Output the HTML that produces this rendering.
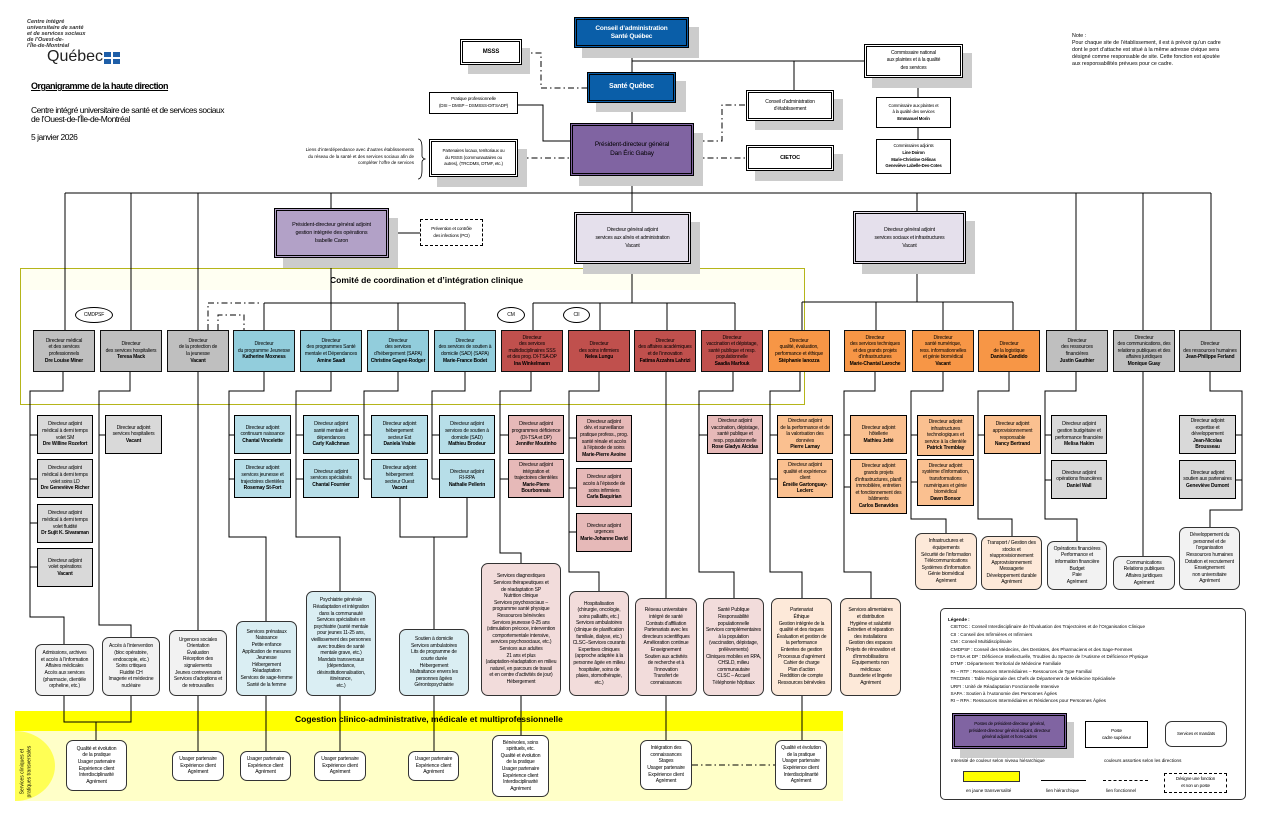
<!DOCTYPE html>
<html><head><meta charset="utf-8"><style>
*{margin:0;padding:0}
body{width:1263px;height:819px;position:relative;background:#fff;font-family:"Liberation Sans",sans-serif;overflow:hidden}
.b{position:absolute;box-sizing:border-box;border:1px solid #000;display:flex;align-items:center;justify-content:center;text-align:center;font-size:5px;line-height:6.6px;overflow:hidden;letter-spacing:-0.15px;color:#000}
.b>span{display:block;width:100%}
.d{border:1.5px solid #111}
.r{border-radius:7px;border:1.3px solid #333}
.dbl{border:3px double #000}
.sh{position:absolute;background:#ccc}
.t{position:absolute;font-size:5px;line-height:6.6px;white-space:nowrap}
.gD{background:#bfbfbf}.gA{background:#d9d9d9}.gS{background:#f2f2f2}
.bD{background:#92cddc}.bA{background:#b7dee8}.bS{background:#daeef3}
.rD{background:#c0504d}.rA{background:#e6b9b8}.rS{background:#f2dcdb}
.oD{background:#f79646}.oA{background:#fac090}.oS{background:#fde9d9}
b{font-weight:bold}
</style></head><body>
<div style="position:absolute;left:20px;top:268px;width:785px;height:137px;border:1px solid #b5b51a;box-sizing:border-box"></div>
<div style="position:absolute;left:21px;top:269px;width:783px;height:21px;background:#fffff2"></div>
<div class="t" style="left:330px;top:277px;font-size:8.5px;font-weight:bold">Comité de coordination et d’intégration clinique</div>
<div style="position:absolute;left:15px;top:711px;width:828px;height:20px;background:#ffff00"></div>
<div style="position:absolute;left:15px;top:731px;width:828px;height:70px;background:#ffffc8"></div>
<div style="position:absolute;left:15px;top:731px;width:40px;height:70px;background:#ffff55;border-radius:0 40px 40px 0/0 50% 50% 0"></div>
<div class="t" style="left:295px;top:716px;font-size:8.5px;font-weight:bold">Cogestion clinico-administrative, médicale et multiprofessionnelle</div>
<div class="t" style="left:-4px;top:765px;transform:rotate(-90deg);text-align:center;font-size:5px;width:60px;white-space:normal">Services cliniques et pratiques transversales</div>

<svg style="position:absolute;left:0;top:0" width="1263" height="819">
<g stroke="#000" stroke-width="1" fill="none">
<path d="M632 48V72M632 103V123M632 176V212M632 61H864M794 61V90M918 78V97M918 128V139"/>
<path d="M518 105H543V141H570"/>
<path d="M65 193H1211M65 193V330M131 193V330M198 193V330M331 193V208M917 193V211M1076 193V330M1143 193V330M1211 193V330"/>
<path d="M389 233H420"/>
<path d="M331 258V303M264 303H465M264 303V330M331 303V330M398 303V330M465 303V330"/>
<path d="M632 264V303M533 303H735M533 303V330M600 303V330M667 303V330M735 303V330"/>
<path d="M917 264V302M802 302H1013M802 302V330M876 302V330M943 302V330M1013 302V330"/>
<path d="M63 372V391H30V617H64V644M30 435H37M30 479H37M30 523H37M30 567H37"/>
<path d="M130 372V391H99V625H131V637M99 435H105"/>
<path d="M198 372V630"/>
<path d="M264 372V391H229V537H266V621M229 435H234M229 479H234"/>
<path d="M331 372V391H296V537H340V591M296 435H303M296 479H303"/>
<path d="M398 372V391H364V479M364 435H371M364 479H371M400 498V537H467V498M434 537V629"/>
<path d="M465 372V391H432V479M432 435H439M432 479H439"/>
<path d="M531 372V391H500V553H521V563M500 435H508M500 479H508"/>
<path d="M599 372V391H569V572H599V591M569 438H576M569 488H576M569 532H576"/>
<path d="M666 372V598"/>
<path d="M733 372V391H699V572H734V598M699 435H707"/>
<path d="M800 372V391H770V572H802V598M770 435H777M770 479H777"/>
<path d="M875 372V391H844V572H871V598M844 435H850M844 487H850"/>
<path d="M943 372V391H911V519H946V533M911 435H917M911 482H917"/>
<path d="M1009 372V391H978V519H1012V536M978 435H984"/>
<path d="M1076 372V391H1045V519H1077V541M1045 435H1051M1045 480H1051"/>
<path d="M1143 372V556"/>
<path d="M1210 372V391H1242V510H1210V527M1236 435H1242M1236 480H1242"/>
<path d="M64 696V722H131V696M96 722V740M198 696V751M266 696V751M340 696V751M434 696V751M521 696V735M666 696V740M802 696V740"/>
</g>
<g stroke="#000" stroke-width="1" fill="none" stroke-dasharray="6,3,1.5,3">
<path d="M522 53H541V88H587"/>
<path d="M518 158H570"/>
<path d="M694 141H722V105H746"/>
<path d="M694 158H746"/>
<path d="M208 330V303H261"/>
<path d="M218 330V315H244V330"/>
<path d="M692 765H775"/>
</g>
<path d="M418 139q4 0 4 9v8q0 2 3 3q-3 1 -3 3v8q0 9 -4 9" stroke="#000" stroke-width="0.8" fill="none"/>
</svg>

<div class="t" style="left:27px;top:19px;font-size:5.5px;line-height:6px;font-weight:bold;font-style:italic;color:#333">Centre intégré<br>universitaire de santé<br>et de services sociaux<br>de l’Ouest-de-<br>l’Île-de-Montréal</div>
<div class="t" style="left:47px;top:49px;font-size:16px;line-height:16px;color:#222">Québec</div>
<div style="position:absolute;left:104px;top:52px;width:7px;height:5px;background:#1f5fa8"></div>
<div style="position:absolute;left:113px;top:52px;width:7px;height:5px;background:#1f5fa8"></div>
<div style="position:absolute;left:104px;top:59px;width:7px;height:5px;background:#1f5fa8"></div>
<div style="position:absolute;left:113px;top:59px;width:7px;height:5px;background:#1f5fa8"></div>
<div class="t" style="left:31px;top:83px;font-size:9px;font-weight:bold;text-decoration:underline;letter-spacing:-0.5px">Organigramme de la haute direction</div>
<div class="t" style="left:31px;top:106px;font-size:8.5px;line-height:9px;letter-spacing:-0.5px">Centre intégré universitaire de santé et de services sociaux<br>de l’Ouest-de-l’Île-de-Montréal</div>
<div class="t" style="left:31px;top:134px;font-size:8.5px;letter-spacing:-0.5px">5 janvier 2026</div>
<div class="t" style="left:1072px;top:33px;font-size:5.3px;line-height:7px">Note :<br>Pour chaque site de l’établissement, il est à prévoir qu’un cadre<br>dont le port d’attache est situé à la même adresse civique sera<br>désigné comme responsable de site. Cette fonction est ajoutée<br>aux responsabilités prévues pour ce cadre.</div>
<div class="t" style="left:280px;top:147px;text-align:right;width:134px;font-size:4.5px">Liens d’interdépendance avec d’autres établissements<br>du réseau de la santé et des services sociaux afin de<br>compléter l’offre de services</div>

<div class="sh" style="left:582px;top:27px;width:117px;height:31px"></div>
<div class="b dbl" style="left:574px;top:17px;width:115px;height:31px;background:#0a5ea8;color:#fff;font-size:6.5px;line-height:8px"><span><b>Conseil d’administration<br>Santé Québec</b></span></div>
<div class="sh" style="left:468px;top:48px;width:62px;height:26px"></div>
<div class="b dbl" style="left:460px;top:39px;width:62px;height:26px;background:#fff;font-size:6px"><span><b>MSSS</b></span></div>
<div class="sh" style="left:596px;top:81px;width:90px;height:31px"></div>
<div class="b dbl" style="left:587px;top:72px;width:89px;height:31px;background:#0a5ea8;color:#fff;font-size:7px"><span><b>Santé Québec</b></span></div>
<div class="b" style="left:429px;top:92px;width:89px;height:22px;background:#fff;font-size:4.5px"><span>Pratique professionnelle<br>(DSI – DMSP – DSMSSS-DITSADP)</span></div>
<div class="sh" style="left:437px;top:149px;width:90px;height:38px"></div>
<div class="b dbl" style="left:429px;top:139px;width:89px;height:38px;background:#fff;font-size:4.5px"><span>Partenaires locaux, territoriaux ou<br>du RSSS (communautaires ou<br>autres), (TRCDMS, DTMF, etc.)</span></div>
<div class="sh" style="left:579px;top:133px;width:124px;height:53px"></div>
<div class="b dbl" style="left:570px;top:123px;width:124px;height:53px;background:#8064a2;font-size:6.5px;line-height:8.5px"><span>Président-directeur général<br>Dan Éric Gabay</span></div>
<div class="sh" style="left:872px;top:53px;width:100px;height:35px"></div>
<div class="b dbl" style="left:864px;top:44px;width:99px;height:34px;background:#fff;font-size:5px;line-height:7.5px"><span>Commissaire national<br>aux plaintes et à la qualité<br>des services</span></div>
<div class="sh" style="left:755px;top:99px;width:88px;height:31px"></div>
<div class="b dbl" style="left:746px;top:90px;width:88px;height:31px;background:#fff"><span>Conseil d’administration<br>d’établissement</span></div>
<div class="sh" style="left:755px;top:154px;width:88px;height:27px"></div>
<div class="b dbl" style="left:746px;top:145px;width:88px;height:26px;background:#fff;font-size:5.5px"><span><b>CIETOC</b></span></div>
<div class="b" style="left:876px;top:97px;width:75px;height:31px;background:#fff;font-size:4.3px"><span>Commissaire aux plaintes et<br>à la qualité des services<br><b>Emmanuel Morin</b></span></div>
<div class="b" style="left:876px;top:139px;width:75px;height:35px;background:#fff;font-size:4.3px"><span>Commissaires adjoints<br><b>Line Doiron<br>Marie-Christine Gélinas<br>Geneviève Labelle-Des-Cotes</b></span></div>

<div class="sh" style="left:283px;top:218px;width:115px;height:50px"></div>
<div class="b dbl" style="left:274px;top:208px;width:115px;height:50px;background:#b2a1c7;font-size:5.5px;line-height:8px"><span>Président-directeur général adjoint<br>gestion intégrée des opérations<br>Isabelle Caron</span></div>
<div class="b" style="left:420px;top:219px;width:63px;height:27px;background:#fff;border:1px dashed #000;font-size:4.5px"><span>Prévention et contrôle<br>des infections (PCI)</span></div>
<div class="sh" style="left:583px;top:222px;width:117px;height:52px"></div>
<div class="b dbl" style="left:574px;top:212px;width:117px;height:52px;background:#e5e0ec;font-size:5px;line-height:8px"><span>Directeur général adjoint<br>services aux aînés et administration<br>Vacant</span></div>
<div class="sh" style="left:862px;top:221px;width:113px;height:53px"></div>
<div class="b dbl" style="left:853px;top:211px;width:113px;height:53px;background:#e5e0ec;font-size:5px;line-height:8px"><span>Directeur général adjoint<br>services sociaux et infrastructures<br>Vacant</span></div>

<div class="b" style="left:75px;top:307px;width:38px;height:16px;border-radius:50%;background:#fff;font-size:5px"><span>CMDPSF</span></div>
<div class="b" style="left:497px;top:307px;width:28px;height:16px;border-radius:50%;background:#fff;font-size:5px"><span>CM</span></div>
<div class="b" style="left:563px;top:307px;width:27px;height:16px;border-radius:50%;background:#fff;font-size:5px"><span>CII</span></div>

<div class="b d gD" style="left:33px;top:330px;width:62px;height:42px"><span>Directeur médical<br>et des services<br>professionnels<br><b>Dre Louise Miner</b></span></div>
<div class="b d gD" style="left:100px;top:330px;width:62px;height:42px"><span>Directeur<br>des services hospitaliers<br><b>Teresa Mack</b></span></div>
<div class="b d gD" style="left:167px;top:330px;width:62px;height:42px"><span>Directeur<br>de la protection de<br>la jeunesse<br><b>Vacant</b></span></div>
<div class="b d bD" style="left:233px;top:330px;width:62px;height:42px"><span>Directeur<br>du programme Jeunesse<br><b>Katherine Moxness</b></span></div>
<div class="b d bD" style="left:300px;top:330px;width:62px;height:42px"><span>Directeur<br>des programmes Santé<br>mentale et Dépendances<br><b>Amine Saadi</b></span></div>
<div class="b d bD" style="left:367px;top:330px;width:62px;height:42px"><span>Directeur<br>des services<br>d’hébergement (SAPA)<br><b>Christine Gagné-Rodger</b></span></div>
<div class="b d bD" style="left:434px;top:330px;width:62px;height:42px"><span>Directeur<br>des services de soutien à<br>domicile (SAD) (SAPA)<br><b>Marie-France Bodet</b></span></div>
<div class="b d rD" style="left:501px;top:330px;width:62px;height:42px"><span>Directeur<br>des services<br>multidisciplinaires SSS<br>et des prog. DI-TSA-DP<br><b>Ina Winkelmann</b></span></div>
<div class="b d rD" style="left:568px;top:330px;width:62px;height:42px"><span>Directeur<br>des soins infirmiers<br><b>Nelea Lungu</b></span></div>
<div class="b d rD" style="left:634px;top:330px;width:62px;height:42px"><span>Directeur<br>des affaires académiques<br>et de l’innovation<br><b>Fatima Azzahra Lahrizi</b></span></div>
<div class="b d rD" style="left:701px;top:330px;width:62px;height:42px"><span>Directeur<br>vaccination et dépistage,<br>santé publique et resp.<br>populationnelle<br><b>Saadia Marfouk</b></span></div>
<div class="b d oD" style="left:768px;top:330px;width:62px;height:42px"><span>Directeur<br>qualité, évaluation,<br>performance et éthique<br><b>Stéphanie Ianozza</b></span></div>
<div class="b d oD" style="left:844px;top:330px;width:62px;height:42px"><span>Directeur<br>des services techniques<br>et des grands projets<br>d’infrastructures<br><b>Marie-Chantal Laroche</b></span></div>
<div class="b d oD" style="left:912px;top:330px;width:62px;height:42px"><span>Directeur<br>santé numérique,<br>ress. informationnelles<br>et génie biomédical<br><b>Vacant</b></span></div>
<div class="b d oD" style="left:978px;top:330px;width:62px;height:42px"><span>Directeur<br>de la logistique<br><b>Daniela Candido</b></span></div>
<div class="b d gD" style="left:1046px;top:330px;width:62px;height:42px"><span>Directeur<br>des ressources<br>financières<br><b>Justin Gauthier</b></span></div>
<div class="b d gD" style="left:1113px;top:330px;width:62px;height:42px"><span>Directeur<br>des communications, des<br>relations publiques et des<br>affaires juridiques<br><b>Monique Guay</b></span></div>
<div class="b d gD" style="left:1179px;top:330px;width:62px;height:42px"><span>Directeur<br>des ressources humaines<br><b>Jean-Philippe Ferland</b></span></div>

<div class="b gA" style="left:37px;top:415px;width:56px;height:39px"><span>Directeur adjoint<br>médical à demi temps<br>volet SM<br><b>Dre Willine Rozefort</b></span></div>
<div class="b gA" style="left:37px;top:459px;width:56px;height:39px"><span>Directeur adjoint<br>médical à demi temps<br>volet soins LD<br><b>Dre Geneviève Richer</b></span></div>
<div class="b gA" style="left:37px;top:504px;width:56px;height:39px"><span>Directeur adjoint<br>médical à demi temps<br>volet fluidité<br><b>Dr Sujit K. Sivaraman</b></span></div>
<div class="b gA" style="left:37px;top:548px;width:56px;height:39px"><span>Directeur adjoint<br>volet opérations<br><b>Vacant</b></span></div>
<div class="b gA" style="left:105px;top:415px;width:57px;height:39px"><span>Directeur adjoint<br>services hospitaliers<br><b>Vacant</b></span></div>
<div class="b bA" style="left:234px;top:415px;width:57px;height:39px"><span>Directeur adjoint<br>continuum naissance<br><b>Chantal Vincelette</b></span></div>
<div class="b bA" style="left:234px;top:459px;width:57px;height:39px"><span>Directeur adjoint<br>services jeunesse et<br>trajectoires clientèles<br><b>Rosemay St-Fort</b></span></div>
<div class="b bA" style="left:303px;top:415px;width:56px;height:39px"><span>Directeur adjoint<br>santé mentale et<br>dépendances<br><b>Carly Kalichman</b></span></div>
<div class="b bA" style="left:303px;top:459px;width:56px;height:39px"><span>Directeur adjoint<br>services spécialisés<br><b>Chantal Fournier</b></span></div>
<div class="b bA" style="left:371px;top:415px;width:57px;height:39px"><span>Directeur adjoint<br>hébergement<br>secteur Est<br><b>Daniela Vrabie</b></span></div>
<div class="b bA" style="left:371px;top:459px;width:57px;height:39px"><span>Directeur adjoint<br>hébergement<br>secteur Ouest<br><b>Vacant</b></span></div>
<div class="b bA" style="left:439px;top:415px;width:56px;height:39px"><span>Directeur adjoint<br>services de soutien à<br>domicile (SAD)<br><b>Mathieu Brodeur</b></span></div>
<div class="b bA" style="left:439px;top:459px;width:56px;height:39px"><span>Directeur adjoint<br>RI-RPA<br><b>Nathalie Pellerin</b></span></div>
<div class="b rA" style="left:508px;top:415px;width:56px;height:39px"><span>Directeur adjoint<br>programmes déficience<br>(DI-TSA et DP)<br><b>Jennifer Moutinho</b></span></div>
<div class="b rA" style="left:508px;top:459px;width:56px;height:39px"><span>Directeur adjoint<br>intégration et<br>trajectoires clientèles<br><b>Marie-Pierre<br>Bourbonnais</b></span></div>
<div class="b rA" style="left:576px;top:415px;width:56px;height:47px"><span>Directeur adjoint<br>dév. et surveillance<br>pratique profess., prog.<br>santé rénale et accès<br>à l’épisode de soins<br><b>Marie-Pierre Avoine</b></span></div>
<div class="b rA" style="left:576px;top:468px;width:56px;height:39px"><span>Directeur adjoint<br>accès à l’épisode de<br>soins infirmiers<br><b>Carla Baquirian</b></span></div>
<div class="b rA" style="left:576px;top:513px;width:56px;height:39px"><span>Directeur adjoint<br>urgences<br><b>Marie-Johanne David</b></span></div>
<div class="b rA" style="left:707px;top:415px;width:56px;height:39px"><span>Directeur adjoint<br>vaccination, dépistage,<br>santé publique et<br>resp. populationnelle<br><b>Rose Gladys Alcidas</b></span></div>
<div class="b oA" style="left:777px;top:415px;width:56px;height:39px"><span>Directeur adjoint<br>de la performance et de<br>la valorisation des<br>données<br><b>Pierre Lamay</b></span></div>
<div class="b oA" style="left:777px;top:459px;width:56px;height:39px"><span>Directeur adjoint<br>qualité et expérience<br>client<br><b>Émélie Gartonguay-<br>Leclerc</b></span></div>
<div class="b oA" style="left:850px;top:415px;width:57px;height:39px"><span>Directeur adjoint<br>hôtellerie<br><b>Mathieu Jetté</b></span></div>
<div class="b oA" style="left:850px;top:459px;width:57px;height:55px"><span>Directeur adjoint<br>grands projets<br>d’infrastructures, planif.<br>immobilière, entretien<br>et fonctionnement des<br>bâtiments<br><b>Carlos Benavides</b></span></div>
<div class="b oA" style="left:917px;top:415px;width:57px;height:41px"><span>Directeur adjoint<br>infrastructures<br>technologiques et<br>service à la clientèle<br><b>Patrick Tremblay</b></span></div>
<div class="b oA" style="left:917px;top:459px;width:57px;height:47px"><span>Directeur adjoint<br>système d’information,<br>transformations<br>numériques et génie<br>biomédical<br><b>Dawn Bonsor</b></span></div>
<div class="b oA" style="left:984px;top:415px;width:57px;height:39px"><span>Directeur adjoint<br>approvisionnement<br>responsable<br><b>Nancy Bertrand</b></span></div>
<div class="b gA" style="left:1051px;top:415px;width:56px;height:39px"><span>Directeur adjoint<br>gestion budgétaire et<br>performance financière<br><b>Melisa Hakim</b></span></div>
<div class="b gA" style="left:1051px;top:460px;width:56px;height:39px"><span>Directeur adjoint<br>opérations financières<br><b>Daniel Wall</b></span></div>
<div class="b gA" style="left:1179px;top:415px;width:57px;height:39px"><span>Directeur adjoint<br>expertise et<br>développement<br><b>Jean-Nicolas<br>Brousseau</b></span></div>
<div class="b gA" style="left:1179px;top:460px;width:57px;height:39px"><span>Directeur adjoint<br>soutien aux partenaires<br><b>Geneviève Dumont</b></span></div>

<div class="b r gS" style="left:35px;top:644px;width:59px;height:52px"><span>Admissions, archives<br>et accès à l’information<br>Affaires médicales<br>Accès aux services<br>(pharmacie, clientèle<br>orpheline, etc.)</span></div>
<div class="b r gS" style="left:102px;top:637px;width:58px;height:59px"><span>Accès à l’intervention<br>(bloc opératoire,<br>endoscopie, etc.)<br>Soins critiques<br>Fluidité CH<br>Imagerie et médecine<br>nucléaire</span></div>
<div class="b r gS" style="left:169px;top:630px;width:58px;height:66px"><span>Urgences sociales<br>Orientation<br>Évaluation<br>Réception des<br>signalements<br>Jeunes contrevenants<br>Services d’adoptions et<br>de retrouvailles</span></div>
<div class="b r bS" style="left:236px;top:621px;width:61px;height:75px"><span>Services prénataux<br>Naissance<br>Petite enfance<br>Application de mesures<br>Jeunesse<br>Hébergement<br>Réadaptation<br>Services de sage-femme<br>Santé de la femme</span></div>
<div class="b r bS" style="left:306px;top:591px;width:70px;height:105px"><span>Psychiatrie générale<br>Réadaptation et intégration<br>dans la communauté<br>Services spécialisés en<br>psychiatrie (santé mentale<br>pour jeunes 11-25 ans,<br>vieillissement des personnes<br>avec troubles de santé<br>mentale grave, etc.)<br>Mandats transversaux<br>(dépendance,<br>désinstitutionnalisation, itinérance,<br>etc.)</span></div>
<div class="b r bS" style="left:399px;top:629px;width:70px;height:67px"><span>Soutien à domicile<br>Services ambulatoires<br>Lits de programme de<br>courte durée<br>Hébergement<br>Maltraitance envers les<br>personnes âgées<br>Gérontopsychiatrie</span></div>
<div class="b r rS" style="left:481px;top:563px;width:80px;height:133px"><span>Services diagnostiques<br>Services thérapeutiques et<br>de réadaptation SP<br>Nutrition clinique<br>Services psychosociaux –<br>programme santé physique<br>Ressources bénévoles<br>Services jeunesse 0-25 ans<br>(stimulation précoce, intervention<br>comportementale intensive,<br>services psychosociaux, etc.)<br>Services aux adultes<br>21 ans et plus<br>(adaptation-réadaptation en milieu<br>naturel, en parcours de travail<br>et en centre d’activités de jour)<br>Hébergement</span></div>
<div class="b r rS" style="left:569px;top:591px;width:60px;height:105px"><span>Hospitalisation<br>(chirurgie, oncologie,<br>soins palliatifs, etc.)<br>Services ambulatoires<br>(clinique de planification<br>familiale, dialyse, etc.)<br>CLSC–Services courants<br>Expertises cliniques<br>(approche adaptée à la<br>personne âgée en milieu<br>hospitalier, soins de<br>plaies, stomothérapie,<br>etc.)</span></div>
<div class="b r rS" style="left:635px;top:598px;width:62px;height:98px"><span>Réseau universitaire<br>intégré de santé<br>Contrats d’affiliation<br>Partenariats avec les<br>directeurs scientifiques<br>Amélioration continue<br>Enseignement<br>Soutien aux activités<br>de recherche et à<br>l’innovation<br>Transfert de<br>connaissances</span></div>
<div class="b r rS" style="left:703px;top:598px;width:61px;height:98px"><span>Santé Publique<br>Responsabilité<br>populationnelle<br>Services complémentaires<br>à la population<br>(vaccination, dépistage,<br>prélèvements)<br>Cliniques mobiles en RPA,<br>CHSLD, milieu<br>communautaire<br>CLSC – Accueil<br>Téléphonie hôpitaux</span></div>
<div class="b r oS" style="left:771px;top:598px;width:61px;height:98px"><span>Partenariat<br>Éthique<br>Gestion intégrée de la<br>qualité et des risques<br>Évaluation et gestion de<br>la performance<br>Ententes de gestion<br>Processus d’agrément<br>Cahier de charge<br>Plan d’action<br>Reddition de compte<br>Ressources bénévoles</span></div>
<div class="b r oS" style="left:840px;top:598px;width:61px;height:98px"><span>Services alimentaires<br>et distribution<br>Hygiène et salubrité<br>Entretien et réparation<br>des installations<br>Gestion des espaces<br>Projets de rénovation et<br>d’immobilisations<br>Équipements non<br>médicaux<br>Buanderie et lingerie<br>Agrément</span></div>
<div class="b r oS" style="left:915px;top:533px;width:62px;height:57px"><span>Infrastructures et<br>équipements<br>Sécurité de l’information<br>Télécommunications<br>Systèmes d’information<br>Génie biomédical<br>Agrément</span></div>
<div class="b r oS" style="left:981px;top:536px;width:61px;height:54px"><span>Transport / Gestion des<br>stocks et<br>réapprovisionnement<br>Approvisionnement<br>Messagerie<br>Développement durable<br>Agrément</span></div>
<div class="b r gS" style="left:1047px;top:541px;width:60px;height:49px"><span>Opérations financières<br>Performance et<br>information financière<br>Budget<br>Paie<br>Agrément</span></div>
<div class="b r gS" style="left:1113px;top:556px;width:62px;height:34px"><span>Communications<br>Relations publiques<br>Affaires juridiques<br>Agrément</span></div>
<div class="b r gS" style="left:1179px;top:527px;width:61px;height:63px"><span>Développement du<br>personnel et de<br>l’organisation<br>Ressources humaines<br>Dotation et recrutement<br>Enseignement<br>non universitaire<br>Agrément</span></div>

<div class="b r" style="left:66px;top:740px;width:61px;height:51px;background:#fff"><span>Qualité et évolution<br>de la pratique<br>Usager partenaire<br>Expérience client<br>Interdisciplinarité<br>Agrément</span></div>
<div class="b r" style="left:172px;top:751px;width:52px;height:30px;background:#fff"><span>Usager partenaire<br>Expérience client<br>Agrément</span></div>
<div class="b r" style="left:240px;top:751px;width:51px;height:30px;background:#fff"><span>Usager partenaire<br>Expérience client<br>Agrément</span></div>
<div class="b r" style="left:314px;top:751px;width:52px;height:30px;background:#fff"><span>Usager partenaire<br>Expérience client<br>Agrément</span></div>
<div class="b r" style="left:408px;top:751px;width:51px;height:30px;background:#fff"><span>Usager partenaire<br>Expérience client<br>Agrément</span></div>
<div class="b r" style="left:492px;top:735px;width:57px;height:62px;background:#fff"><span>Bénévoles, soins<br>spirituels, etc.<br>Qualité et évolution<br>de la pratique<br>Usager partenaire<br>Expérience client<br>Interdisciplinarité<br>Agrément</span></div>
<div class="b r" style="left:640px;top:740px;width:52px;height:50px;background:#fff"><span>Intégration des<br>connaissances<br>Stages<br>Usager partenaire<br>Expérience client<br>Agrément</span></div>
<div class="b r" style="left:775px;top:740px;width:52px;height:50px;background:#fff"><span>Qualité et évolution<br>de la pratique<br>Usager partenaire<br>Expérience client<br>Interdisciplinarité<br>Agrément</span></div>

<div style="position:absolute;left:940px;top:608px;width:306px;height:192px;border:1px solid #333;border-radius:5px;box-sizing:border-box"></div>
<div class="t" style="left:948px;top:616px;font-size:4.6px;line-height:7.4px"><b>Légende :</b><br>&nbsp;&nbsp;CIETOC : Conseil Interdisciplinaire de l’Évaluation des Trajectoires et de l’Organisation Clinique<br>&nbsp;&nbsp;CII : Conseil des Infirmières et Infirmiers<br>&nbsp;&nbsp;CM : Conseil Multidisciplinaire<br>&nbsp;&nbsp;CMDPSF : Conseil des Médecins, des Dentistes, des Pharmaciens et des Sage-Femmes<br>&nbsp;&nbsp;DI-TSA et DP : Déficience Intellectuelle, Troubles du Spectre de l’Autisme et Déficience Physique<br>&nbsp;&nbsp;DTMF : Département Territorial de Médecine Familiale<br>&nbsp;&nbsp;RI – RTF : Ressources Intermédiaires – Ressources de Type Familial<br>&nbsp;&nbsp;TRCDMS : Table Régionale des Chefs de Département de Médecine Spécialisée<br>&nbsp;&nbsp;URFI : Unité de Réadaptation Fonctionnelle Intensive<br>&nbsp;&nbsp;SAPA : Soutien à l’Autonomie des Personnes Âgées<br>&nbsp;&nbsp;RI – RPA : Ressources Intermédiaires et Résidences pour Personnes Âgées</div>
<div class="sh" style="left:960px;top:722px;width:114px;height:36px"></div>
<div class="b dbl" style="left:952px;top:713px;width:115px;height:36px;background:#8064a2;font-size:4.5px"><span>Postes de président-directeur général,<br>président-directeur général adjoint, directeur<br>général adjoint et hors-cadres</span></div>
<div class="b" style="left:1085px;top:721px;width:63px;height:27px;background:#fff;font-size:4.5px"><span>Poste<br>cadre supérieur</span></div>
<div class="b r" style="left:1165px;top:721px;width:62px;height:26px;background:#fff;font-size:4.5px"><span>Services et mandats</span></div>
<div class="t" style="left:951px;top:758px;font-size:4.6px">Intensité de couleur selon niveau hiérarchique</div>
<div class="t" style="left:1104px;top:758px;font-size:4.6px">couleurs assorties selon les directions</div>
<div style="position:absolute;left:963px;top:771px;width:57px;height:11px;background:#ffff00;border:1px solid #333;box-sizing:border-box"></div>
<div style="position:absolute;left:1041px;top:780px;width:45px;height:1px;background:#000"></div>
<div style="position:absolute;left:1103px;top:780px;width:45px;border-top:1px dashed #000"></div>
<div class="b" style="left:1164px;top:773px;width:63px;height:20px;border:1px dashed #000;font-size:4.5px;background:#fff"><span>Désigne une fonction<br>et non un poste</span></div>
<div class="t" style="left:966px;top:788px;font-size:4.5px">en jaune transversalité</div>
<div class="t" style="left:1046px;top:788px;font-size:4.5px">lien hiérarchique</div>
<div class="t" style="left:1106px;top:788px;font-size:4.5px">lien fonctionnel</div>
</body></html>
